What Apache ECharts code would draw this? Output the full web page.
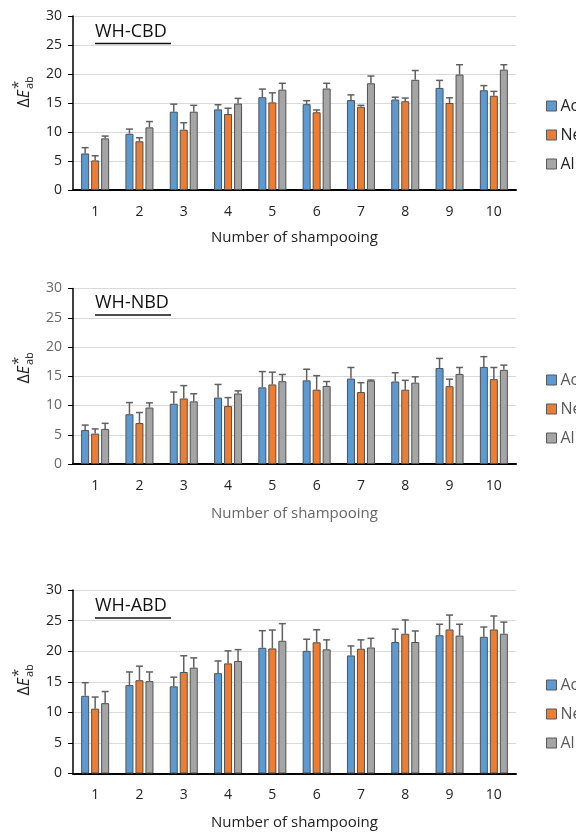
<!DOCTYPE html>
<html>
<head>
<meta charset="utf-8">
<script src="https://cdn.jsdelivr.net/npm/echarts@6/dist/echarts.min.js"></script>
<style>
  html, body { margin: 0; padding: 0; background: #fff; }
  #main { width: 576px; height: 834px; }
</style>
</head>
<body>
<div id="main"></div>
<script>
var categories = ['1', '2', '3', '4', '5', '6', '7', '8', '9', '10'];
var yTicks = [0, 5, 10, 15, 20, 25, 30];
var seriesNames = ['Ac', 'Ne', 'Al'];
var panelTitles = ['WH-CBD', 'WH-NBD', 'WH-ABD'];

// WH-CBD
var cbdAc = [6.3, 9.7, 13.5, 13.9, 16.0, 14.8, 15.5, 15.6, 17.6, 17.2];
var cbdNe = [5.1, 8.4, 10.4, 13.1, 15.1, 13.4, 14.35, 15.3, 15.0, 16.25];
var cbdAl = [8.9, 10.8, 13.5, 14.9, 17.3, 17.5, 18.4, 19.0, 19.9, 20.75];
var cbdAcSd = [1.0, 0.8, 1.3, 0.8, 1.4, 0.6, 0.9, 0.4, 1.3, 0.8];
var cbdNeSd = [0.8, 0.6, 1.2, 1.0, 1.65, 0.4, 0.25, 0.55, 0.9, 0.75];
var cbdAlSd = [0.4, 1.0, 1.1, 0.9, 1.1, 0.9, 1.25, 1.6, 1.7, 0.85];

// WH-NBD
var nbdAc = [5.8, 8.5, 10.3, 11.35, 13.1, 14.3, 14.6, 14.1, 16.4, 16.6];
var nbdNe = [5.2, 7.0, 11.2, 9.9, 13.6, 12.7, 12.3, 12.7, 13.3, 14.5];
var nbdAl = [6.0, 9.65, 10.7, 12.05, 14.15, 13.35, 14.25, 13.9, 15.4, 16.1];
var nbdAcSd = [0.85, 2.0, 2.0, 2.25, 2.7, 1.9, 1.9, 1.5, 1.65, 1.75];
var nbdNeSd = [0.8, 1.8, 2.2, 1.45, 2.1, 2.4, 1.6, 1.6, 1.2, 2.0];
var nbdAlSd = [0.95, 0.8, 1.3, 0.45, 1.15, 0.75, 0.1, 1.0, 1.1, 0.8];

// WH-ABD
var abdAc = [12.7, 14.45, 14.25, 16.4, 20.55, 20.05, 19.3, 21.5, 22.6, 22.35];
var abdNe = [10.6, 15.25, 16.6, 18.0, 20.45, 21.45, 20.4, 22.85, 23.55, 23.55];
var abdAl = [11.5, 15.1, 17.3, 18.4, 21.7, 20.3, 20.6, 21.5, 22.55, 22.85];
var abdAcSd = [2.15, 2.15, 1.5, 2.0, 2.8, 1.9, 1.55, 2.1, 1.8, 1.6];
var abdNeSd = [1.9, 2.3, 2.65, 2.05, 3.0, 2.05, 1.45, 2.25, 2.35, 2.2];
var abdAlSd = [1.9, 1.5, 1.6, 1.85, 2.8, 1.55, 1.5, 1.8, 1.85, 1.9];

var panels = [
	{ vals: [cbdAc, cbdNe, cbdAl], sds: [cbdAcSd, cbdNeSd, cbdAlSd] },
	{ vals: [nbdAc, nbdNe, nbdAl], sds: [nbdAcSd, nbdNeSd, nbdAlSd] },
	{ vals: [abdAc, abdNe, abdAl], sds: [abdAcSd, abdNeSd, abdAlSd] }
];

var FONT = '"Open Sans", "Noto Sans", sans-serif';
var colors = ['#5B9BD5', '#ED7D31', '#A5A5A5'];
var barOffsets = [-10, 0, 10];

// layout of the three panels
var grids = [
	{ top: 16, height: 174, textColor: '#222', legendTop: 93, titleY: 35, lineY: 43.5, nameY: 94 },
	{ top: 288.5, height: 175.5, textColor: '#666', legendTop: 367, titleY: 306, lineY: 315, nameY: 370 },
	{ top: 590, height: 183.5, textColor: '#222', legendTop: 672, titleY: 609, lineY: 618, nameY: 682 }
];

var myChart = echarts.init(document.getElementById('main'));

var gridOpt = [], xAxes = [], yAxes = [], legends = [], series = [], graphics = [];

grids.forEach(function (g, k) {
	gridOpt.push({ left: 73, width: 443, top: g.top, height: g.height });
	xAxes.push({
		type: 'category',
		gridIndex: k,
		data: categories,
		name: 'Number of shampooing',
		nameLocation: 'middle',
		nameGap: k === 0 ? 40 : 42,
		nameTextStyle: { fontFamily: FONT, fontSize: 15, color: g.textColor },
		axisLine: { lineStyle: { color: '#000', width: 2 } },
		axisTick: { show: false },
		axisLabel: { margin: 15, fontFamily: FONT, fontSize: 14, color: '#222' }
	});
	yAxes.push({
		type: 'value',
		gridIndex: k,
		min: 0,
		max: 30,
		interval: yTicks[1] - yTicks[0],
		axisLine: { show: true, lineStyle: { color: '#000', width: 1.5 } },
		axisTick: { show: true, length: 5, lineStyle: { color: '#000' } },
		axisLabel: { margin: 11, fontFamily: FONT, fontSize: 14, color: g.textColor },
		splitLine: { lineStyle: { color: '#d9d9d9', width: 1 } }
	});
	legends.push({
		data: seriesNames,
		orient: 'vertical',
		left: 541,
		top: g.legendTop,
		itemWidth: 10,
		itemHeight: 10,
		itemGap: 13,
		icon: 'rect',
		itemStyle: { borderColor: '#595959', borderWidth: 1 },
		textStyle: { fontFamily: FONT, fontSize: 16, color: k === 0 ? '#222' : '#595959', lineHeight: 16, padding: [0, 0, 0, -1] }
	});

	var p = panels[k];
	for (var s = 0; s < 3; s++) {
		series.push({
			type: 'bar',
			name: seriesNames[s],
			xAxisIndex: k,
			yAxisIndex: k,
			data: p.vals[s],
			barWidth: 8,
			barGap: '25%',
			itemStyle: { color: colors[s], borderColor: '#505050', borderWidth: 1 },
			animation: false
		});
	}
	for (var s2 = 0; s2 < 3; s2++) {
		(function (si) {
			series.push({
				type: 'custom',
				xAxisIndex: k,
				yAxisIndex: k,
				z: 3,
				silent: true,
				animation: false,
				data: p.vals[si].map(function (v, i) { return [i, v, v + p.sds[si][i]]; }),
				encode: { x: 0, y: [1, 2] },
				renderItem: function (params, api) {
					var base = api.coord([api.value(0), api.value(1)]);
					var top = api.coord([api.value(0), api.value(2)]);
					var x = base[0] + barOffsets[si];
					var st = { stroke: '#606060', lineWidth: 1.5 };
					return {
						type: 'group',
						children: [
							{ type: 'line', shape: { x1: x, y1: base[1], x2: x, y2: top[1] }, style: st },
							{ type: 'line', shape: { x1: x - 3.5, y1: top[1], x2: x + 3.5, y2: top[1] }, style: st }
						]
					};
				}
			});
		})(s2);
	}

	// panel title with underline
	graphics.push({
		type: 'text', left: 95, top: g.titleY - 12,
		style: { text: panelTitles[k], fontFamily: FONT, fontSize: 18, fill: '#111' }
	});
	graphics.push({
		type: 'line', shape: { x1: 95, y1: g.lineY, x2: 171, y2: g.lineY },
		style: { stroke: '#111', lineWidth: 1.3 }
	});
	// y axis name: ΔE*ab, rotated
	graphics.push({
		type: 'group', x: 24, y: g.nameY, rotation: Math.PI / 2,
		children: [
			{ type: 'text', x: 4, y: 0, style: { text: '{d|Δ}{e|E}', align: 'right', verticalAlign: 'middle',
				rich: { d: { fontFamily: FONT, fontSize: 16, fill: '#222' }, e: { fontFamily: FONT, fontSize: 16, fontStyle: 'italic', fill: '#222' } } } },
			{ type: 'text', x: 5, y: -5, style: { text: '*', align: 'left', verticalAlign: 'middle', fontFamily: FONT, fontSize: 15, fill: '#222' } },
			{ type: 'text', x: 5, y: 6, style: { text: 'ab', align: 'left', verticalAlign: 'middle', fontFamily: FONT, fontSize: 11, fill: '#222' } }
		]
	});
});

var option = {
	animation: false,
	color: colors,
	grid: gridOpt,
	xAxis: xAxes,
	yAxis: yAxes,
	legend: legends,
	series: series,
	graphic: graphics
};
myChart.setOption(option);
</script>
</body>
</html>
